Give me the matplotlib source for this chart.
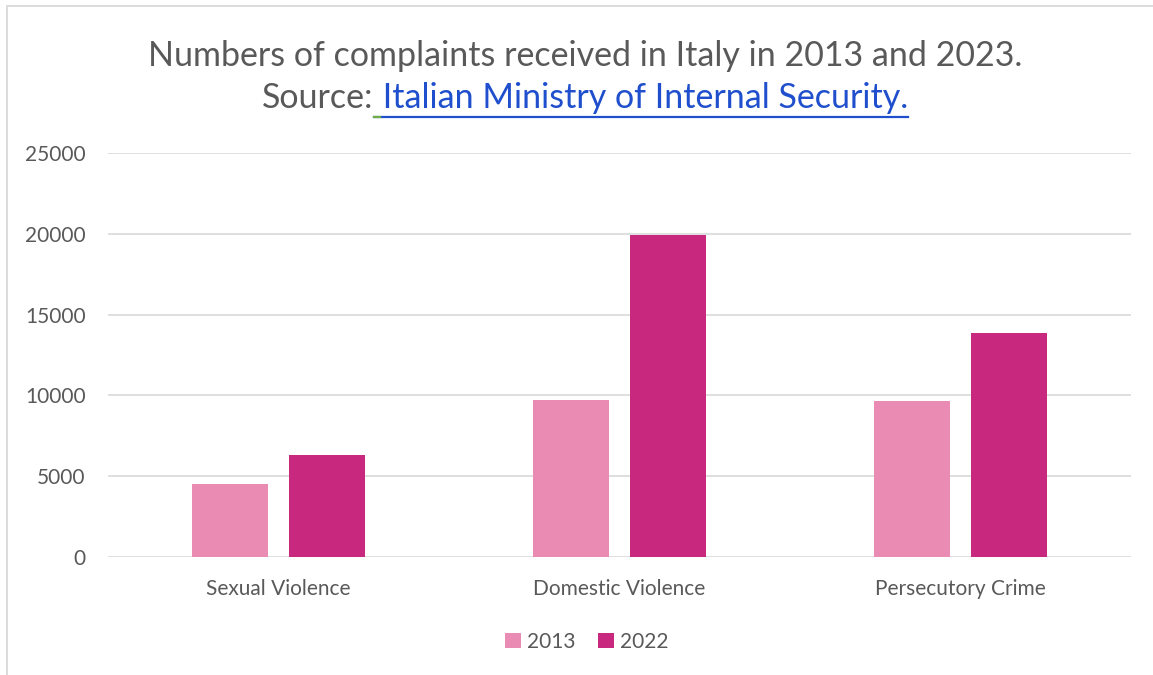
import matplotlib
matplotlib.use('Agg')
import matplotlib.pyplot as plt
import numpy as np
from matplotlib.lines import Line2D
from matplotlib.patches import Rectangle
#
# data
#
categories  = ['Sexual Violence', 'Domestic Violence', 'Persecutory Crime']
series_2013 = [4500, 9700, 9650]
series_2022 = [6300, 19900, 13850]
series_names = ['2013', '2022']
y_ticks     = [0, 5000, 10000, 15000, 20000, 25000]
#
plt.rcParams['font.family'] = ['Lato', 'DejaVu Sans']
W, H = 1153, 675
fig = plt.figure(figsize=(W / 100, H / 100), dpi=100)
fig.patch.set_facecolor('white')
#
# light frame round the chart area
fig.add_artist(Rectangle((7 / W, -0.1), 1.2, 1 - 6 / H + 0.1, transform=fig.transFigure,
                         fill=False, edgecolor='#D9D9D9', linewidth=1.3))
#
ax = fig.add_axes([108 / W, 1 - 557 / H, (1131 - 108) / W, (557 - 153) / H])
x = np.arange(len(categories))
bw = 0.223
off = 0.142
ax.bar(x - off, series_2013, bw, color='#EA8BB3', label=series_names[0], zorder=3)
ax.bar(x + off, series_2022, bw, color='#C9287F', label=series_names[1], zorder=3)
ax.set_xlim(-0.5, 2.5)
ax.set_ylim(0, 25000)
ax.set_yticks(y_ticks)
ax.set_yticklabels([str(v) for v in y_ticks])
ax.set_xticks(x)
ax.set_xticklabels(categories)
ax.grid(axis='y', color='#D9D9D9', linewidth=1.2, zorder=0)
for s in ax.spines.values():
    s.set_visible(False)
ax.tick_params(axis='both', length=0, colors='#595959', labelsize=15)
ax.tick_params(axis='y', pad=16)
ax.tick_params(axis='x', pad=16)
#
leg = fig.legend(loc='center', bbox_to_anchor=(587 / W, 1 - 642 / H), ncol=2, frameon=False,
                 fontsize=15, handlelength=0.75, handleheight=0.75, handletextpad=0.3,
                 columnspacing=1.1, labelcolor='#595959')
#
# title, second line has a coloured and underlined link part
tsize = 24.5
fig.text(585 / W, 1 - 56 / H, 'Numbers of complaints received in Italy in 2013 and 2023.',
         ha='center', va='center', fontsize=tsize, color='#595959')
fig.canvas.draw()
rend = fig.canvas.get_renderer()
t1 = fig.text(0, 1 - 98 / H, 'Source:', ha='left', va='center', fontsize=tsize, color='#595959')
t2 = fig.text(0, 1 - 98 / H, ' Italian Ministry of Internal Security.', ha='left', va='center',
              fontsize=tsize, color='#1F4FCC')
w1 = t1.get_window_extent(rend).width
w2 = t2.get_window_extent(rend).width
x0 = 585 - (w1 + w2) / 2
t1.set_x(x0 / W)
t2.set_x((x0 + w1) / W)
uy = 1 - 117 / H
fig.add_artist(Line2D([(x0 + w1) / W, (x0 + w1 + w2) / W], [uy, uy], transform=fig.transFigure,
                      color='#1F4FCC', linewidth=1.6))
fig.add_artist(Line2D([(x0 + w1) / W, (x0 + w1 + 6) / W], [uy, uy], transform=fig.transFigure,
                      color='#70AD47', linewidth=1.6))
#
fig.savefig('out.png', dpi=100)
